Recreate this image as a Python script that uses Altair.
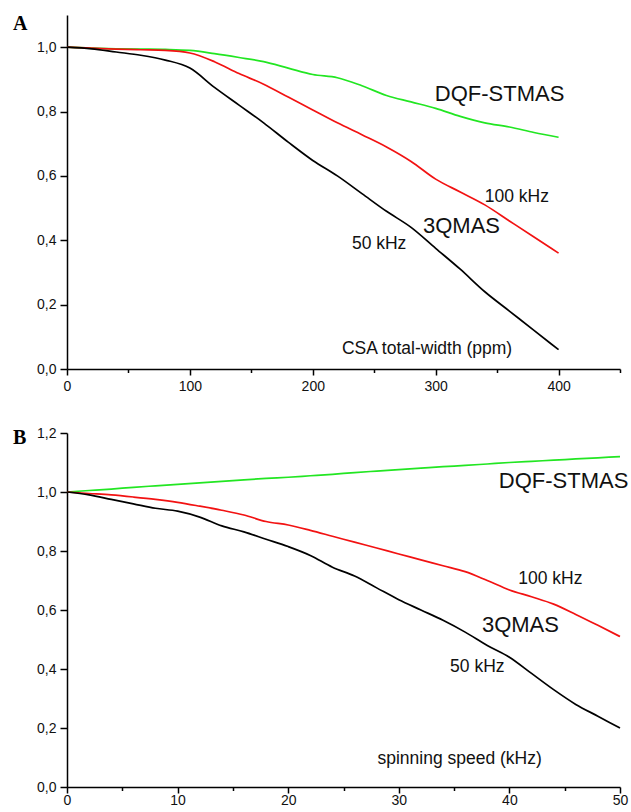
import altair as alt
import pandas as pd

# ---- Panel A: normalised efficiency vs CSA total width (ppm) ----
csa_ppm = [0, 20, 40, 60, 80, 100, 120, 140, 160, 180, 200,
           220, 240, 260, 280, 300, 320, 340, 360, 380, 400]
a_dqf_stmas = [1.0, 0.997, 0.995, 0.994, 0.993, 0.99, 0.98, 0.968, 0.955, 0.935, 0.915,
               0.905, 0.88, 0.85, 0.83, 0.81, 0.785, 0.765, 0.752, 0.735, 0.72]
a_3qmas_100 = [1.0, 0.997, 0.994, 0.992, 0.99, 0.982, 0.955, 0.918, 0.885, 0.845, 0.805,
               0.765, 0.728, 0.69, 0.645, 0.59, 0.55, 0.51, 0.46, 0.41, 0.36]
a_3qmas_50 = [1.0, 0.995, 0.985, 0.975, 0.96, 0.935, 0.875, 0.82, 0.765, 0.705, 0.648,
              0.60, 0.545, 0.49, 0.44, 0.375, 0.31, 0.24, 0.18, 0.12, 0.06]

# ---- Panel B: normalised efficiency vs spinning speed (kHz) ----
spin_khz = [0, 2, 4, 6, 8, 10, 12, 14, 16, 18, 20, 22, 24,
            26, 28, 30, 32, 34, 36, 38, 40, 42, 44, 46, 48, 50]
b_dqf_stmas = [1.0, 1.005, 1.01, 1.016, 1.021, 1.026, 1.031, 1.036, 1.041, 1.046, 1.05, 1.055, 1.06,
               1.066, 1.071, 1.076, 1.081, 1.086, 1.09, 1.095, 1.1, 1.104, 1.108, 1.112, 1.116, 1.12]
b_3qmas_100 = [1.0, 0.995, 0.99, 0.983, 0.975, 0.965, 0.952, 0.938, 0.922, 0.9, 0.888, 0.87, 0.85,
               0.83, 0.81, 0.79, 0.77, 0.75, 0.73, 0.7, 0.668, 0.645, 0.62, 0.585, 0.548, 0.51]
b_3qmas_50 = [1.0, 0.99, 0.975, 0.96, 0.945, 0.935, 0.915, 0.885, 0.865, 0.84, 0.815, 0.785, 0.745,
              0.715, 0.675, 0.635, 0.6, 0.565, 0.525, 0.48, 0.44, 0.385, 0.33, 0.28, 0.24, 0.2]

series_names = ["DQF-STMAS", "3QMAS 100 kHz", "3QMAS 50 kHz"]
series_colors = ["#22e622", "#f21212", "#000000"]

FONT = "Liberation Sans"


def long_table(xs, *ys):
    rows = []
    for name, vals in zip(series_names, ys):
        for x, v in zip(xs, vals):
            rows.append({"x": x, "y": v, "series": name})
    return pd.DataFrame(rows)


def comma_labels(step_test):
    return (f"{step_test} ? replace(format(datum.value, '.1f'), '.', ',') : ''")


def panel(df, notes, letter, x_dom, x_vals, x_major, y_dom, y_vals, x_pad, letter_y):
    x_axis = alt.Axis(
        values=x_vals,
        title=None,
        grid=False,
        labelExpr=f"datum.value % {x_major} === 0 ? format(datum.value, 'd') : ''",
        labelOverlap=False,
        labelFlush=False,
        labelPadding=x_pad,
        tickSize={"condition": {"test": f"datum.value % {x_major} === 0", "value": 6}, "value": 3.5},
    )
    y_axis = alt.Axis(
        values=y_vals,
        title=None,
        grid=False,
        labelExpr=comma_labels("round(datum.value * 10) % 2 === 0"),
        labelOverlap=False,
        labelFlush=False,
        labelPadding=4,
        tickSize={"condition": {"test": "round(datum.value * 10) % 2 === 0", "value": 7}, "value": 4},
    )
    x_enc = alt.X("x:Q", scale=alt.Scale(domain=x_dom, nice=False, zero=False), axis=x_axis)
    y_enc = alt.Y("y:Q", scale=alt.Scale(domain=y_dom, nice=False, zero=False), axis=y_axis)

    curves = alt.Chart(df).mark_line(strokeWidth=1.7, interpolate="monotone").encode(
        x=x_enc,
        y=y_enc,
        color=alt.Color("series:N",
                        scale=alt.Scale(domain=series_names, range=series_colors),
                        legend=None),
    )

    labels = alt.Chart(pd.DataFrame(notes)).mark_text(
        font=FONT, align="center", baseline="middle", color="#111111"
    ).encode(
        x="x:Q",
        y="y:Q",
        text="text:N",
        size=alt.Size("size:Q", scale=None, legend=None),
    )

    tag = alt.Chart(pd.DataFrame({"t": [letter]})).mark_text(
        font="Liberation Serif", fontWeight="bold", fontSize=20,
        align="left", baseline="middle", color="#000000",
    ).encode(x=alt.value(-54), y=alt.value(letter_y), text="t:N")

    return alt.layer(curves, labels, tag).properties(width=553, height=354)


df_a = long_table(csa_ppm, a_dqf_stmas, a_3qmas_100, a_3qmas_50)
df_b = long_table(spin_khz, b_dqf_stmas, b_3qmas_100, b_3qmas_50)

notes_a = {
    "x": [352, 366, 321, 254, 293],
    "y": [0.853, 0.536, 0.445, 0.389, 0.062],
    "text": ["DQF-STMAS", "100 kHz", "3QMAS", "50 kHz", "CSA total-width (ppm)"],
    "size": [22, 17.5, 22, 17.5, 17.5],
}
notes_b = {
    "x": [44.9, 43.7, 41.0, 37.1, 35.5],
    "y": [1.037, 0.705, 0.55, 0.406, 0.095],
    "text": ["DQF-STMAS", "100 kHz", "3QMAS", "50 kHz", "spinning speed (kHz)"],
    "size": [22, 17.5, 22, 17.5, 17.5],
}

panel_a = panel(df_a, notes_a, "A", [0, 450], list(range(0, 451, 50)), 100,
                [0, 1.1], [round(i * 0.1, 1) for i in range(0, 12)], 4, 8.5)
panel_b = panel(df_b, notes_b, "B", [0, 50], list(range(0, 51, 5)), 10,
                [0, 1.2], [round(i * 0.1, 1) for i in range(0, 13)], 0, 4.5)

chart = alt.vconcat(panel_a, panel_b, spacing=33).properties(
    padding={"left": 13, "top": 13, "right": 0, "bottom": 0},
    background="white",
).configure_view(
    stroke=None
).configure_axis(
    domainColor="#000000",
    domainWidth=1.5,
    tickColor="#000000",
    tickWidth=1.5,
    labelFont=FONT,
    labelFontSize=14,
    labelColor="#111111",
)

chart.save("out.html", embed_options={"renderer": "svg", "actions": False})
